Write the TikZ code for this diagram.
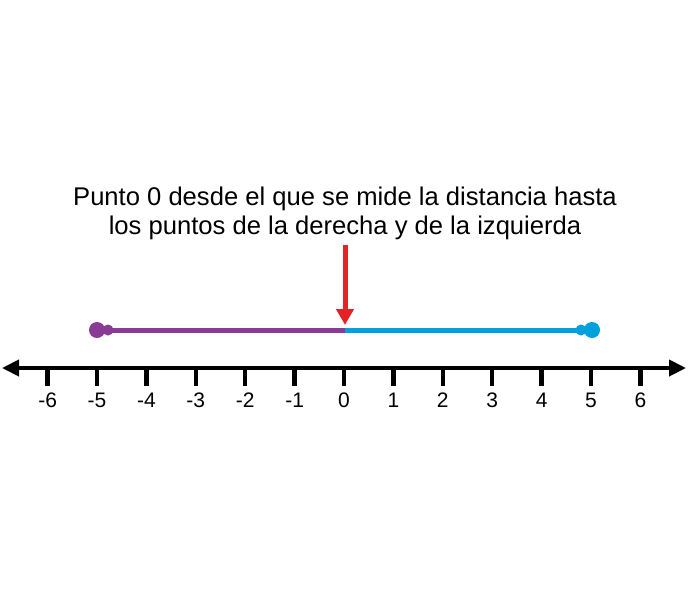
\documentclass[tikz,border=0pt]{standalone}
\usepackage{fontspec}
\setmainfont{Liberation Sans}
\usetikzlibrary{arrows.meta}
\definecolor{lpurple}{RGB}{137,59,150}
\definecolor{lblue}{RGB}{0,160,220}
\definecolor{lred}{RGB}{226,35,40}
\begin{document}
\begin{tikzpicture}[x=1pt,y=-1pt,
  tick/.style={line width=4.5pt},
  num/.style={font=\fontsize{21}{24}\selectfont,inner sep=0pt},
  seg/.style={line width=5pt},
  dot/.style={circle,inner sep=0pt,minimum size=16pt},
  sdot/.style={circle,inner sep=0pt,minimum size=11pt}]
\useasboundingbox (0,0) rectangle (688,600);
\coordinate (L) at (2,368);
\coordinate (R) at (686,368);
\draw[line width=4pt,{Triangle[length=17pt,width=16pt]}-{Triangle[length=17pt,width=16pt]}] (L) -- (R);
\foreach \i in {-6,...,6} {
  \coordinate (t\i) at ({344+49.4*\i},368);
  \coordinate (b\i) at ({344+49.4*\i},386);
  \draw[tick] (t\i) -- (b\i);
  \node[num,anchor=north] (n\i) at ({344+49.4*\i},393) {\i};
}
\coordinate (O) at (345,330);
\node[dot,fill=lpurple] (pL) at (97,330) {};
\node[sdot,fill=lpurple] (pL2) at (108,330) {};
\node[dot,fill=lblue] (pR) at (592,330) {};
\node[sdot,fill=lblue] (pR2) at (581,330) {};
\draw[seg,lpurple] (pL2.center) -- (O);
\draw[seg,lblue] (O) -- (pR2.center);
\node[align=center,font=\fontsize{25.6}{29}\selectfont,inner sep=0pt] (txt) at (345,213) {Punto 0 desde el que se mide la distancia hasta\\los puntos de la derecha y de la izquierda};
\coordinate (A) at (345,245);
\coordinate (B) at (345,325);
\draw[line width=5pt,lred,-{Triangle[length=16pt,width=17pt]}] (A) -- (B);
\end{tikzpicture}
\end{document}
